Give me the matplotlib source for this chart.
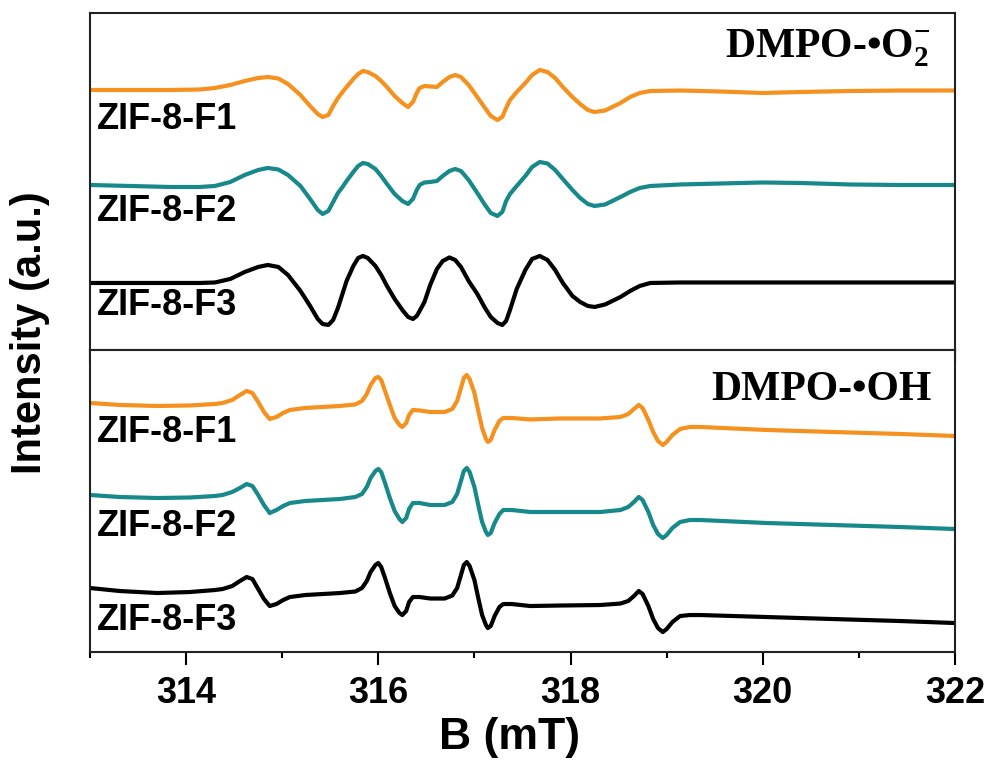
import matplotlib
matplotlib.use("Agg")
import matplotlib.pyplot as plt
from matplotlib.ticker import MultipleLocator, NullFormatter

plt.rcParams['font.family'] = ['Liberation Sans', 'DejaVu Sans']
plt.rcParams['mathtext.fontset'] = 'custom'
plt.rcParams['mathtext.rm'] = 'Liberation Serif:bold'
plt.rcParams['mathtext.bf'] = 'Liberation Serif:bold'
plt.rcParams['mathtext.it'] = 'Liberation Serif:bold'

# ---------------- data ----------------
# Top panel: DMPO-•O2− (magnetic field, mT)
b_o2 = [313.00, 313.42, 313.83, 314.14, 314.30, 314.46, 314.61, 314.75, 314.85, 314.96,
        315.06, 315.19, 315.29, 315.37, 315.42, 315.48, 315.53, 315.58, 315.62, 315.67,
        315.74, 315.79, 315.84, 315.89, 315.97, 316.03, 316.09, 316.17, 316.25, 316.31,
        316.36, 316.40, 316.43, 316.48, 316.54, 316.61, 316.67, 316.74, 316.80, 316.86,
        316.94, 317.03, 317.11, 317.17, 317.24, 317.29, 317.33, 317.37, 317.44, 317.53,
        317.60, 317.68, 317.76, 317.84, 317.92, 318.02, 318.10, 318.18, 318.25, 318.36,
        318.52, 318.62, 318.72, 318.83, 319.14, 319.56, 320.00, 320.39, 320.91, 321.43,
        322.00]
o2_f1 = [0, 0, 0, 0.5, 2, 5, 9, 12, 13, 11.5,
         6, -5, -16, -24, -27, -25, -16, -8, -3, 3,
         11, 16, 19, 18, 14, 9, 3, -6, -13, -17,
         -12, -3, 2, 4, 3.5, 3, 8, 13, 15, 13,
         5, -7, -18, -26, -30, -27, -18, -10, -2, 7,
         15, 20, 18, 12, 3, -7, -14, -20, -22, -20.5,
         -13, -7, -3, -1, -0.5, -1.5, -3, -2, -1, -0.5,
         -0.5]
o2_f2 = [0, -1, -2, -2, -1, 3, 10, 15, 17, 15.5,
         10, -1, -14, -25, -29, -26, -17, -8, -3, 4,
         13, 19, 22, 21, 16, 9, 1, -9, -16, -19,
         -14, -5, 0, 2.5, 3, 4, 9, 14, 16, 14,
         5, -8, -20, -28, -31, -27, -16, -9, -1, 9,
         18, 23, 21.5, 15, 6, -5, -13, -19, -21, -19.5,
         -12, -7, -3, -1, 0.5, 1.5, 2.5, 2, 0.5, 0,
         0]
o2_f3 = [0, 0, 0, 0, 0.5, 4, 11, 16, 18, 16,
         8, -8, -23, -36, -41, -42, -37, -25, -13, 2,
         17, 25, 27, 25, 17, 8, -3, -16, -27, -34,
         -36, -33, -28, -19, -2, 14, 22, 25.5, 23, 16,
         2, -11, -25, -34, -40, -42, -38, -27, -6, 13,
         24, 27, 23, 13, 0, -13, -19, -23, -24, -21.5,
         -14, -8, -3, 0, 0.5, 0.5, 0.5, 0.5, 0.5, 0.5,
         0.5]

# Bottom panel: DMPO-•OH
b_oh = [313.00, 313.31, 313.70, 314.04, 314.30, 314.38, 314.48, 314.56, 314.63, 314.69,
        314.75, 314.81, 314.87, 314.94, 315.01, 315.08, 315.24, 315.42, 315.60, 315.76,
        315.83, 315.88, 315.92, 315.97, 316.00, 316.03, 316.07, 316.12, 316.17, 316.22,
        316.25, 316.29, 316.32, 316.36, 316.43, 316.54, 316.69, 316.77, 316.82, 316.86,
        316.89, 316.92, 316.95, 317.00, 317.04, 317.08, 317.12, 317.14, 317.17, 317.21,
        317.26, 317.30, 317.39, 317.58, 317.89, 318.31, 318.52, 318.60, 318.66, 318.71,
        318.75, 318.81, 318.86, 318.91, 318.96, 319.00, 319.06, 319.14, 319.24, 319.35,
        320.04, 320.73, 321.43, 322.00]
oh_f1 = [0, -2, -3, -2.5, -1, 0, 3, 8, 12, 10,
         1, -9, -16, -14, -10, -7, -5, -4, -3, -1.5,
         2, 9, 18, 25, 26, 23, 12, -2, -15, -22,
         -24, -20, -12, -7, -7.5, -9, -9, -6, 2, 15,
         25, 28, 24, 10, -8, -25, -36, -39, -37, -27,
         -18, -15, -15, -16.5, -15.5, -15.5, -14, -11, -6, -2,
         -5, -17, -29, -38, -42, -39, -32, -26, -24, -24,
         -27, -29, -31, -33]
oh_f2 = [0, -2, -3, -2.5, -1, 0, 3, 7, 11, 9,
         0, -10, -18, -15, -11, -8, -6, -5, -4, -2,
         1, 8, 17, 24, 26, 23, 12, -3, -16, -24,
         -27, -23, -14, -8, -8, -10, -10, -7, 1, 14,
         24, 27, 23, 8, -10, -27, -37, -40, -38, -28,
         -19, -15, -15, -17, -17, -17, -15, -12, -7, -2,
         -5, -17, -30, -39, -43, -40, -33, -27, -25, -25,
         -28, -30, -32, -34]
oh_f3 = [0, -3, -5, -4, -2, -1, 2, 7, 11, 9,
         -1, -11, -18, -16, -12, -9, -7, -6, -5, -3.5,
         0, 7, 16, 23, 25, 21, 10, -5, -18, -25,
         -27, -23, -14, -9, -9, -10.5, -10.5, -7.5, 0, 13,
         23, 26, 22, 8, -10, -27, -37, -40, -38, -28,
         -19, -16, -16, -18, -17.5, -17, -15.5, -13, -8, -3,
         -6, -18, -31, -40, -44, -41, -34, -28, -27, -27,
         -29, -31, -33, -35]

samples = ['ZIF-8-F1', 'ZIF-8-F2', 'ZIF-8-F3']
colors = ['#F5911E', '#17898A', '#000000']
offsets_o2 = [260, 165, 67]
offsets_oh = [249, 157, 64]
xticks_major = [314, 316, 318, 320, 322]

# ---------------- figure ----------------
fig = plt.figure(figsize=(9.9, 7.7), dpi=100)
ax1 = fig.add_axes([0.0909, 0.5455, 0.8737, 0.4376])
ax2 = fig.add_axes([0.0909, 0.1532, 0.8737, 0.3923])

for ax in (ax1, ax2):
    ax.set_xlim(313, 322)
    for sp in ax.spines.values():
        sp.set_linewidth(1.5)
        sp.set_color('#222222')
    ax.set_yticks([])

ax1.set_ylim(0, 337)
ax2.set_ylim(0, 302)

for sig, off, c in zip([o2_f1, o2_f2, o2_f3], offsets_o2, colors):
    ax1.plot(b_o2, [v + off for v in sig], color=c, lw=3.0,
             solid_joinstyle='round', solid_capstyle='round')
for sig, off, c in zip([oh_f1, oh_f2, oh_f3], offsets_oh, colors):
    ax2.plot(b_oh, [v + off for v in sig], color=c, lw=3.0,
             solid_joinstyle='round', solid_capstyle='round')

# sample labels
lab_y_top = [230, 138, 44]
lab_y_bot = [219, 126, 32]
for name, y in zip(samples, lab_y_top):
    ax1.text(313.07, y, name, fontsize=26, fontweight='bold', va='center', ha='left')
for name, y in zip(samples, lab_y_bot):
    ax2.text(313.07, y, name, fontsize=26, fontweight='bold', va='center', ha='left')

ax1.text(321.74, 302, r'DMPO-•O$_{2}^{-}$', fontsize=30, fontweight='bold',
         family='Liberation Serif', ha='right', va='center')
ax2.text(321.76, 262, 'DMPO-•OH', fontsize=30, fontweight='bold',
         family='Liberation Serif', ha='right', va='center')

# ticks
ax1.xaxis.set_major_locator(MultipleLocator(1))
ax1.xaxis.set_major_formatter(NullFormatter())
ax1.tick_params(axis='x', which='major', direction='out', length=9, width=1.5,
                bottom=True, top=False, labelbottom=False)
ax1.tick_params(axis='y', left=False, right=False)

ax2.set_xticks(xticks_major)
ax2.xaxis.set_minor_locator(MultipleLocator(1))
ax2.tick_params(axis='x', which='major', direction='out', length=9, width=1.5,
                labelsize=26, pad=8, top=False)
ax2.tick_params(axis='x', which='minor', direction='out', length=4, width=1.5, top=False)
ax2.tick_params(axis='y', left=False, right=False)
for lab in ax2.get_xticklabels():
    lab.set_fontweight('bold')

ax2.set_xlabel('B (mT)', fontsize=32, fontweight='bold')
ax2.xaxis.set_label_coords(0.485, -0.215)
fig.text(0.03, 0.568, 'Intensity (a.u.)', rotation=90, fontsize=30, fontweight='bold',
         ha='center', va='center')

fig.savefig('out.png', dpi=100)
